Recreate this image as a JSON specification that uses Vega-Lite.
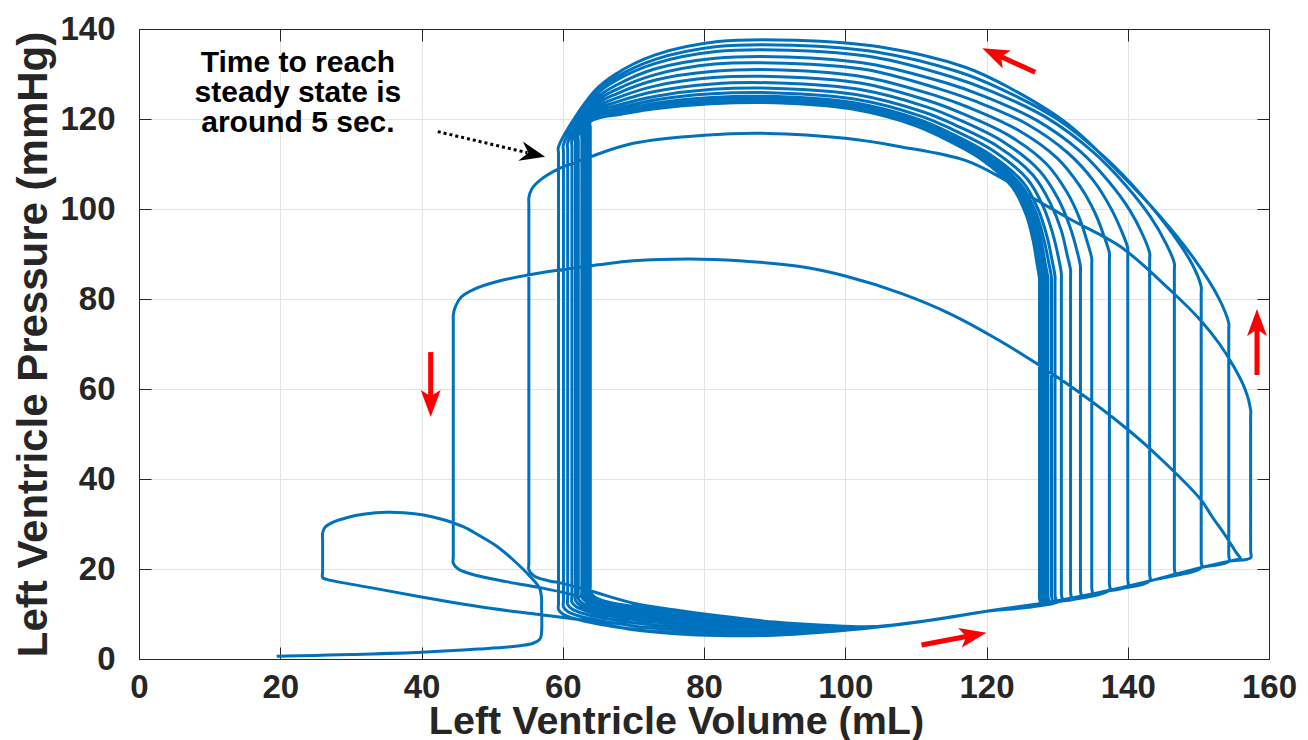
{
"$schema":"https://vega.github.io/schema/vega-lite/v6.json",
"width":1130,"height":630,
"autosize":{"type":"none"},
"padding":{"left":139,"top":29,"right":39,"bottom":81},
"background":"#ffffff",
"config":{"view":{"stroke":"#262626","strokeWidth":1},"font":"Liberation Sans"},
"datasets":{
"pv":[
{"vol":19.5,"pres":0.6},{"vol":25,"pres":0.8},{"vol":30,"pres":1.0},{"vol":40,"pres":1.5},{"vol":48,"pres":2.2},{"vol":53,"pres":2.8},{"vol":55.8,"pres":3.5},{"vol":56.8,"pres":4.5},{"vol":57,"pres":6},{"vol":57,"pres":12},{"vol":57,"pres":13.5},{"vol":56.7,"pres":15.8},{"vol":55.4,"pres":18.3},{"vol":53,"pres":22},{"vol":50.7,"pres":25},{"vol":48,"pres":27.6},{"vol":45.9,"pres":29.4},{"vol":43,"pres":31},{"vol":40.3,"pres":32},{"vol":37.5,"pres":32.5},{"vol":35.1,"pres":32.6},{"vol":32,"pres":32.2},{"vol":29.4,"pres":31.4},{"vol":27.5,"pres":30.4},{"vol":26.3,"pres":29.2},{"vol":26,"pres":28},{"vol":26,"pres":26.5},{"vol":26,"pres":19.5},{"vol":26,"pres":18.1},{"vol":26.6,"pres":17.7},{"vol":33,"pres":15.8},{"vol":40,"pres":13.8},{"vol":50,"pres":11.2},{"vol":56,"pres":10},{"vol":62.5,"pres":8.7},{"vol":70,"pres":6.5},{"vol":76,"pres":5.6},{"vol":82,"pres":5.2},{"vol":90,"pres":5.3},{"vol":97,"pres":6},{"vol":104,"pres":7},{"vol":112,"pres":8.6},{"vol":120,"pres":10.6},{"vol":128,"pres":12.4},{"vol":136,"pres":14.8},{"vol":144,"pres":17.7},{"vol":150,"pres":20.2},{"vol":154.3,"pres":21.7},{"vol":155.6,"pres":22.1},{"vol":156,"pres":22.2},
{"vol":155.3,"pres":23.8},{"vol":153.8,"pres":27.5},{"vol":152,"pres":31.5},{"vol":150.3,"pres":35.5},{"vol":145,"pres":44},{"vol":140,"pres":51},{"vol":131,"pres":61.6},{"vol":122,"pres":70.6},{"vol":115,"pres":76.6},{"vol":108,"pres":81.2},{"vol":100,"pres":85.1},{"vol":93.6,"pres":87.2},{"vol":85,"pres":88.5},{"vol":78,"pres":88.9},{"vol":70,"pres":88.5},{"vol":65,"pres":87.6},{"vol":58,"pres":86.1},{"vol":51,"pres":84},{"vol":47.5,"pres":82.2},{"vol":45.6,"pres":80.4},{"vol":44.8,"pres":78.3},{"vol":44.5,"pres":76.4},{"vol":44.5,"pres":75},{"vol":44.5,"pres":22.8},{"vol":44.5,"pres":21.3},{"vol":45.2,"pres":20},{"vol":47,"pres":18.9},{"vol":52,"pres":17.2},{"vol":57,"pres":15.8},{"vol":60,"pres":14.8},{"vol":66,"pres":12.6},{"vol":72,"pres":10.6},{"vol":80,"pres":8.6},{"vol":88,"pres":7.5},{"vol":96,"pres":7.1},{"vol":104,"pres":7.1},{"vol":112,"pres":8.6},{"vol":120,"pres":10.6},{"vol":128,"pres":12.4},{"vol":136,"pres":14.8},{"vol":144,"pres":17.7},{"vol":150,"pres":20.2},{"vol":154.3,"pres":21.7},{"vol":157.4,"pres":22.5},
{"vol":157.4,"pres":24},{"vol":157.4,"pres":53.8},{"vol":157.4,"pres":55.3},{"vol":156.6,"pres":60},{"vol":155,"pres":65},{"vol":153,"pres":70},{"vol":150.3,"pres":75.3},{"vol":146,"pres":82},{"vol":139,"pres":91.6},{"vol":132,"pres":97.6},{"vol":126,"pres":103},{"vol":122,"pres":107},{"vol":117,"pres":110.8},{"vol":108,"pres":113.8},{"vol":100,"pres":115.7},{"vol":89,"pres":116.8},{"vol":80,"pres":116.4},{"vol":70,"pres":114.6},{"vol":63.9,"pres":111.6},{"vol":59.4,"pres":108.9},{"vol":56.8,"pres":106.4},{"vol":55.6,"pres":104.4},{"vol":55.2,"pres":102.5},{"vol":55.2,"pres":101},{"vol":55.2,"pres":21.3},{"vol":55.2,"pres":19.8},{"vol":56,"pres":18.4},{"vol":58,"pres":17.4},{"vol":60,"pres":16.8},{"vol":64,"pres":15.1},{"vol":70,"pres":12.4},{"vol":76,"pres":10.9},{"vol":82,"pres":9.6},{"vol":90,"pres":8.2},{"vol":97,"pres":7.5},{"vol":104,"pres":7.2},{"vol":112,"pres":8.6},{"vol":120,"pres":10.6},{"vol":128,"pres":12.4},{"vol":136,"pres":14.8},{"vol":144,"pres":17.7},{"vol":150,"pres":20.2},{"vol":154.3,"pres":21.7},
{"vol":154.3,"pres":23.2},{"vol":154.3,"pres":73.1},{"vol":154.3,"pres":74.6},{"vol":152.85,"pres":80.3},{"vol":149.45,"pres":88.8},{"vol":144.5,"pres":98.5},{"vol":138.4,"pres":108.7},{"vol":131.4,"pres":119},{"vol":123.3,"pres":126.9},{"vol":117,"pres":131.5},{"vol":105,"pres":136},{"vol":93,"pres":137.5},{"vol":82,"pres":137.2},{"vol":73,"pres":134.2},{"vol":67.5,"pres":130},{"vol":64.5,"pres":126.2},{"vol":59.4,"pres":113.8},{"vol":59.4,"pres":112.3},{"vol":59.4,"pres":12.5},{"vol":59.4,"pres":11},{"vol":60,"pres":10},{"vol":61.6,"pres":9},{"vol":70,"pres":6.6},{"vol":76,"pres":5.8},{"vol":82,"pres":5.35},{"vol":90,"pres":5.4},{"vol":97,"pres":6.1},{"vol":104,"pres":7},{"vol":112,"pres":8.6},{"vol":120,"pres":10.6},{"vol":128,"pres":12.4},{"vol":136,"pres":14.8},{"vol":144,"pres":17.7},{"vol":150.4,"pres":20.3},
{"vol":150.4,"pres":21.8},{"vol":150.4,"pres":81.2},{"vol":150.4,"pres":82.7},{"vol":149.2,"pres":87.5},{"vol":146.3,"pres":94.6},{"vol":142.1,"pres":102.8},{"vol":136.8,"pres":111.4},{"vol":130,"pres":120},{"vol":122,"pres":126.7},{"vol":116,"pres":130.5},{"vol":104.4,"pres":134.9},{"vol":92.6,"pres":136.4},{"vol":81.9,"pres":136.1},{"vol":73,"pres":133.2},{"vol":67.6,"pres":129.3},{"vol":64.6,"pres":125.7},{"vol":60.1,"pres":114.3},{"vol":60.1,"pres":112.8},{"vol":60.1,"pres":13.05},{"vol":60.1,"pres":11.55},{"vol":60.7,"pres":10.55},{"vol":62.3,"pres":9.55},{"vol":70,"pres":7.35},{"vol":76,"pres":6.45},{"vol":82,"pres":5.9},{"vol":90,"pres":5.75},{"vol":97,"pres":6.3},{"vol":104,"pres":7},{"vol":112,"pres":8.6},{"vol":120,"pres":10.6},{"vol":128,"pres":12.4},{"vol":136,"pres":14.8},{"vol":144,"pres":17.7},{"vol":146.6,"pres":18.8},
{"vol":146.6,"pres":20.3},{"vol":146.6,"pres":86.4},{"vol":146.6,"pres":87.9},{"vol":145.5,"pres":92.1},{"vol":143.2,"pres":98.3},{"vol":139.7,"pres":105.3},{"vol":135,"pres":112.8},{"vol":128.5,"pres":120.3},{"vol":120.8,"pres":126.1},{"vol":115,"pres":129.4},{"vol":103.9,"pres":133.8},{"vol":92.1,"pres":135.3},{"vol":81.7,"pres":135},{"vol":73,"pres":132.3},{"vol":67.6,"pres":128.6},{"vol":64.7,"pres":125.3},{"vol":60.7,"pres":114.7},{"vol":60.7,"pres":113.2},{"vol":60.7,"pres":13.6},{"vol":60.7,"pres":12.1},{"vol":61.3,"pres":11.1},{"vol":62.9,"pres":10.1},{"vol":70,"pres":8.05},{"vol":76,"pres":7.1},{"vol":82,"pres":6.4},{"vol":90,"pres":6.1},{"vol":97,"pres":6.45},{"vol":104,"pres":7.05},{"vol":112,"pres":8.6},{"vol":120,"pres":10.6},{"vol":128,"pres":12.4},{"vol":136,"pres":14.8},{"vol":143.1,"pres":17.4},
{"vol":143.1,"pres":18.9},{"vol":143.1,"pres":88.7},{"vol":143.1,"pres":90.2},{"vol":142.2,"pres":94},{"vol":140.3,"pres":99.7},{"vol":137.3,"pres":106.1},{"vol":133.2,"pres":112.9},{"vol":127,"pres":119.8},{"vol":119.6,"pres":125.1},{"vol":114.1,"pres":128.1},{"vol":103.3,"pres":132.3},{"vol":91.7,"pres":133.8},{"vol":81.6,"pres":133.5},{"vol":73,"pres":131.1},{"vol":67.7,"pres":127.6},{"vol":64.8,"pres":124.6},{"vol":61.3,"pres":115.3},{"vol":61.3,"pres":113.8},{"vol":61.3,"pres":14.1},{"vol":61.3,"pres":12.6},{"vol":61.9,"pres":11.6},{"vol":63.5,"pres":10.6},{"vol":70,"pres":8.75},{"vol":76,"pres":7.7},{"vol":82,"pres":6.9},{"vol":90,"pres":6.45},{"vol":97,"pres":6.6},{"vol":104,"pres":7.05},{"vol":112,"pres":8.6},{"vol":120,"pres":10.6},{"vol":128,"pres":12.4},{"vol":136,"pres":14.8},{"vol":140,"pres":16.2},
{"vol":140,"pres":17.7},{"vol":140,"pres":89.8},{"vol":140,"pres":91.3},{"vol":139.2,"pres":94.8},{"vol":137.6,"pres":100.2},{"vol":135.2,"pres":106.2},{"vol":131.5,"pres":112.5},{"vol":125.7,"pres":118.9},{"vol":118.5,"pres":123.9},{"vol":113.3,"pres":126.7},{"vol":102.9,"pres":131},{"vol":91.4,"pres":132.4},{"vol":81.5,"pres":132.2},{"vol":73,"pres":129.8},{"vol":67.8,"pres":126.7},{"vol":64.9,"pres":124},{"vol":61.8,"pres":115.9},{"vol":61.8,"pres":114.4},{"vol":61.8,"pres":14.5},{"vol":61.8,"pres":13},{"vol":62.4,"pres":12},{"vol":64,"pres":11},{"vol":70,"pres":9.3},{"vol":76,"pres":8.2},{"vol":82,"pres":7.35},{"vol":90,"pres":6.75},{"vol":97,"pres":6.75},{"vol":104,"pres":7.1},{"vol":112,"pres":8.6},{"vol":120,"pres":10.6},{"vol":128,"pres":12.4},{"vol":137.4,"pres":15.3},
{"vol":137.4,"pres":16.8},{"vol":137.4,"pres":88.7},{"vol":137.4,"pres":90.2},{"vol":136.7,"pres":93.7},{"vol":135.4,"pres":99},{"vol":133.3,"pres":104.9},{"vol":130,"pres":111.3},{"vol":124.4,"pres":117.6},{"vol":117.6,"pres":122.5},{"vol":112.6,"pres":125.3},{"vol":102.5,"pres":129.4},{"vol":91.1,"pres":130.9},{"vol":81.4,"pres":130.6},{"vol":73,"pres":128.6},{"vol":67.8,"pres":125.7},{"vol":65,"pres":123.4},{"vol":62.2,"pres":116.5},{"vol":62.2,"pres":115},{"vol":62.2,"pres":14.9},{"vol":62.2,"pres":13.4},{"vol":62.8,"pres":12.4},{"vol":64.4,"pres":11.4},{"vol":70,"pres":9.8},{"vol":76,"pres":8.65},{"vol":82,"pres":7.7},{"vol":90,"pres":7},{"vol":97,"pres":6.9},{"vol":104,"pres":7.1},{"vol":112,"pres":8.6},{"vol":120,"pres":10.6},{"vol":128,"pres":12.4},{"vol":134.9,"pres":14.4},
{"vol":134.9,"pres":15.9},{"vol":134.9,"pres":87.5},{"vol":134.9,"pres":89},{"vol":134.3,"pres":92.5},{"vol":133.2,"pres":97.8},{"vol":131.4,"pres":103.7},{"vol":128.5,"pres":110},{"vol":123.2,"pres":116.3},{"vol":116.6,"pres":121.2},{"vol":111.9,"pres":124},{"vol":102.1,"pres":128},{"vol":90.8,"pres":129.4},{"vol":81.3,"pres":129.2},{"vol":73,"pres":127.3},{"vol":67.9,"pres":124.8},{"vol":65.1,"pres":122.8},{"vol":62.7,"pres":117.1},{"vol":62.7,"pres":115.6},{"vol":62.7,"pres":15.25},{"vol":62.7,"pres":13.75},{"vol":63.3,"pres":12.75},{"vol":64.9,"pres":11.75},{"vol":70,"pres":10.3},{"vol":76,"pres":9.05},{"vol":82,"pres":8.05},{"vol":90,"pres":7.2},{"vol":97,"pres":7},{"vol":104,"pres":7.1},{"vol":112,"pres":8.6},{"vol":120,"pres":10.6},{"vol":128,"pres":12.4},{"vol":133.3,"pres":13.9},
{"vol":133.3,"pres":15.4},{"vol":133.3,"pres":85.7},{"vol":133.3,"pres":87.2},{"vol":132.8,"pres":90.8},{"vol":131.8,"pres":96.1},{"vol":130.2,"pres":102.1},{"vol":127.5,"pres":108.5},{"vol":122.4,"pres":114.9},{"vol":116,"pres":119.9},{"vol":111.5,"pres":122.7},{"vol":101.9,"pres":126.6},{"vol":90.6,"pres":128},{"vol":81.2,"pres":127.8},{"vol":73,"pres":126.1},{"vol":67.9,"pres":123.9},{"vol":65.1,"pres":122.2},{"vol":62.9,"pres":117.6},{"vol":62.9,"pres":116.1},{"vol":62.9,"pres":15.5},{"vol":62.9,"pres":14},{"vol":63.5,"pres":13},{"vol":65.1,"pres":12},{"vol":70,"pres":10.6},{"vol":76,"pres":9.3},{"vol":82,"pres":8.3},{"vol":90,"pres":7.35},{"vol":97,"pres":7.1},{"vol":104,"pres":7.1},{"vol":112,"pres":8.6},{"vol":120,"pres":10.6},{"vol":128,"pres":12.4},{"vol":131.9,"pres":13.5},
{"vol":131.9,"pres":15},{"vol":131.9,"pres":84.9},{"vol":131.9,"pres":86.4},{"vol":131.4,"pres":89.9},{"vol":130.6,"pres":95.2},{"vol":129.1,"pres":101.1},{"vol":126.6,"pres":107.5},{"vol":121.7,"pres":113.8},{"vol":115.5,"pres":118.7},{"vol":111.2,"pres":121.5},{"vol":101.7,"pres":125.4},{"vol":90.5,"pres":126.8},{"vol":81.2,"pres":126.6},{"vol":73,"pres":125},{"vol":67.9,"pres":123.1},{"vol":65.1,"pres":121.7},{"vol":63.2,"pres":118.1},{"vol":63.2,"pres":116.6},{"vol":63.2,"pres":15.7},{"vol":63.2,"pres":14.2},{"vol":63.8,"pres":13.2},{"vol":65.4,"pres":12.2},{"vol":70,"pres":10.85},{"vol":76,"pres":9.55},{"vol":82,"pres":8.5},{"vol":90,"pres":7.5},{"vol":97,"pres":7.15},{"vol":104,"pres":7.1},{"vol":112,"pres":8.6},{"vol":120,"pres":10.6},{"vol":130.6,"pres":13.1},
{"vol":130.6,"pres":14.6},{"vol":130.6,"pres":84.1},{"vol":130.6,"pres":85.6},{"vol":130.2,"pres":89.1},{"vol":129.4,"pres":94.4},{"vol":128.1,"pres":100.3},{"vol":125.8,"pres":106.6},{"vol":121,"pres":112.9},{"vol":115,"pres":117.8},{"vol":110.8,"pres":120.6},{"vol":101.5,"pres":124.4},{"vol":90.3,"pres":125.8},{"vol":81.1,"pres":125.6},{"vol":73,"pres":124.2},{"vol":67.9,"pres":122.4},{"vol":65.2,"pres":121.2},{"vol":63.4,"pres":118.5},{"vol":63.4,"pres":117},{"vol":63.4,"pres":15.85},{"vol":63.4,"pres":14.35},{"vol":64,"pres":13.35},{"vol":65.6,"pres":12.35},{"vol":70,"pres":11.1},{"vol":76,"pres":9.8},{"vol":82,"pres":8.65},{"vol":90,"pres":7.6},{"vol":97,"pres":7.2},{"vol":104,"pres":7.15},{"vol":112,"pres":8.6},{"vol":120,"pres":10.6},{"vol":129.7,"pres":12.85},
{"vol":129.7,"pres":14.35},{"vol":129.7,"pres":83.5},{"vol":129.7,"pres":85},{"vol":129.3,"pres":88.5},{"vol":128.6,"pres":93.7},{"vol":127.4,"pres":99.6},{"vol":125.2,"pres":105.9},{"vol":120.5,"pres":112.1},{"vol":114.7,"pres":117},{"vol":110.6,"pres":119.8},{"vol":101.3,"pres":123.6},{"vol":90.3,"pres":125},{"vol":81.1,"pres":124.8},{"vol":73,"pres":123.5},{"vol":68,"pres":121.9},{"vol":65.2,"pres":120.9},{"vol":63.5,"pres":118.8},{"vol":63.5,"pres":117.3},{"vol":63.5,"pres":16},{"vol":63.5,"pres":14.5},{"vol":64.1,"pres":13.5},{"vol":65.7,"pres":12.5},{"vol":70,"pres":11.3},{"vol":76,"pres":9.95},{"vol":82,"pres":8.8},{"vol":90,"pres":7.7},{"vol":97,"pres":7.25},{"vol":104,"pres":7.15},{"vol":112,"pres":8.6},{"vol":120,"pres":10.6},{"vol":129.2,"pres":12.75},
{"vol":129.2,"pres":14.25},{"vol":129.2,"pres":83.2},{"vol":129.2,"pres":84.7},{"vol":128.8,"pres":88.2},{"vol":128.1,"pres":93.4},{"vol":127,"pres":99.2},{"vol":124.8,"pres":105.5},{"vol":120.2,"pres":111.7},{"vol":114.4,"pres":116.5},{"vol":110.4,"pres":119.3},{"vol":101.3,"pres":123.1},{"vol":90.2,"pres":124.5},{"vol":81.1,"pres":124.3},{"vol":73,"pres":123.1},{"vol":68,"pres":121.6},{"vol":65.2,"pres":120.7},{"vol":63.6,"pres":119},{"vol":63.6,"pres":117.5},{"vol":63.6,"pres":16.05},{"vol":63.6,"pres":14.55},{"vol":64.2,"pres":13.55},{"vol":65.8,"pres":12.55},{"vol":70,"pres":11.4},{"vol":76,"pres":10},{"vol":82,"pres":8.85},{"vol":90,"pres":7.75},{"vol":97,"pres":7.25},{"vol":104,"pres":7.15},{"vol":112,"pres":8.6},{"vol":120,"pres":10.6},{"vol":128.7,"pres":12.6},
{"vol":128.7,"pres":14.1},{"vol":128.7,"pres":83},{"vol":128.7,"pres":84.5},{"vol":128.3,"pres":88},{"vol":127.7,"pres":93.1},{"vol":126.6,"pres":99},{"vol":124.5,"pres":105.2},{"vol":119.9,"pres":111.4},{"vol":114.3,"pres":116.2},{"vol":110.3,"pres":119},{"vol":101.2,"pres":122.7},{"vol":90.1,"pres":124.1},{"vol":81,"pres":123.9},{"vol":73,"pres":122.7},{"vol":68,"pres":121.3},{"vol":65.3,"pres":120.5},{"vol":63.7,"pres":119.2},{"vol":63.7,"pres":117.7},{"vol":63.7,"pres":16.1},{"vol":63.7,"pres":14.6},{"vol":64.3,"pres":13.6},{"vol":65.9,"pres":12.6},{"vol":70,"pres":11.5},{"vol":76,"pres":10.1},{"vol":82,"pres":8.95},{"vol":90,"pres":7.8},{"vol":97,"pres":7.3},{"vol":104,"pres":7.15},{"vol":112,"pres":8.6},{"vol":120,"pres":10.6},{"vol":128.3,"pres":12.5},
{"vol":128.3,"pres":14},{"vol":128.3,"pres":83},{"vol":128.3,"pres":84.5},{"vol":127.9,"pres":87.9},{"vol":127.3,"pres":93.1},{"vol":126.2,"pres":98.9},{"vol":124.2,"pres":105.1},{"vol":119.7,"pres":111.3},{"vol":114.1,"pres":116.1},{"vol":110.2,"pres":118.8},{"vol":101.1,"pres":122.5},{"vol":90.1,"pres":123.9},{"vol":81,"pres":123.7},{"vol":73,"pres":122.5},{"vol":68,"pres":121.2},{"vol":65.3,"pres":120.4},{"vol":63.8,"pres":119.3},{"vol":63.8,"pres":117.8},{"vol":63.8,"pres":16.2},{"vol":63.8,"pres":14.7},{"vol":64.4,"pres":13.7},{"vol":66,"pres":12.7},{"vol":70,"pres":11.55},{"vol":76,"pres":10.2},{"vol":82,"pres":9},{"vol":90,"pres":7.85},{"vol":97,"pres":7.3},{"vol":104,"pres":7.15},{"vol":112,"pres":8.6},{"vol":120,"pres":10.6},{"vol":127.9,"pres":12.4},
{"vol":127.9,"pres":13.9},{"vol":127.9,"pres":83},{"vol":127.9,"pres":84.5},{"vol":127.5,"pres":87.9},{"vol":127,"pres":93},{"vol":125.9,"pres":98.8},{"vol":123.9,"pres":105},{"vol":119.5,"pres":111.1},{"vol":114,"pres":115.9},{"vol":110.1,"pres":118.6},{"vol":101.1,"pres":122.3},{"vol":90,"pres":123.7},{"vol":81,"pres":123.5},{"vol":73,"pres":122.4},{"vol":68,"pres":121.1},{"vol":65.3,"pres":120.3},{"vol":63.8,"pres":119.4},{"vol":63.8,"pres":117.9},{"vol":63.8,"pres":16.25},{"vol":63.8,"pres":14.75},{"vol":64.4,"pres":13.75},{"vol":66,"pres":12.75},{"vol":70,"pres":11.65},{"vol":76,"pres":10.25},{"vol":82,"pres":9.05},{"vol":90,"pres":7.85},{"vol":97,"pres":7.35},{"vol":104,"pres":7.15},{"vol":112,"pres":8.6},{"vol":120,"pres":10.6},{"vol":127.5,"pres":12.3},
{"vol":127.5,"pres":13.8},{"vol":127.5,"pres":83},{"vol":127.5,"pres":84.5},{"vol":127.15,"pres":87.9},{"vol":126.6,"pres":93},{"vol":125.6,"pres":98.8},{"vol":123.6,"pres":105},{"vol":119.3,"pres":111},{"vol":113.8,"pres":115.8},{"vol":110,"pres":118.5},{"vol":101,"pres":122.2},{"vol":90,"pres":123.6},{"vol":81,"pres":123.4},{"vol":73,"pres":122.3},{"vol":68,"pres":121},{"vol":65.3,"pres":120.3},{"vol":63.9,"pres":119.4},{"vol":63.9,"pres":117.9},{"vol":63.9,"pres":16.3},{"vol":63.9,"pres":14.8},{"vol":64.5,"pres":13.8},{"vol":66.1,"pres":12.8},{"vol":70,"pres":11.7},{"vol":76,"pres":10.3},{"vol":82,"pres":9.1},{"vol":90,"pres":7.9},{"vol":97,"pres":7.35},{"vol":104,"pres":7.15},{"vol":112,"pres":8.6},{"vol":120,"pres":10.6},{"vol":127.5,"pres":12.3}
],
"shafts":[
{"vol":126.9,"pres":130.4,"vol2":121.7,"pres2":134.1},
{"vol":158.3,"pres":63.1,"vol2":158.3,"pres2":73.8},
{"vol":110.8,"pres":3.1,"vol2":117.5,"pres2":5.1},
{"vol":41.3,"pres":68.2,"vol2":41.3,"pres2":57.8}
],
"note":[{"vol":22.5,"pres":130.4}]
},
"layer":[
{"data":{"name":"pv"},
 "mark":{"type":"line","interpolate":"catmull-rom","color":"#0072BD","strokeWidth":3,"clip":true},
 "encoding":{
  "x":{"field":"vol","type":"quantitative","scale":{"domain":[0,160],"nice":false,"zero":false},
   "axis":{"orient":"bottom","values":[0,20,40,60,80,100,120,140,160],"grid":true,"gridColor":"#e3e3e3","gridWidth":1,"domainColor":"#262626","domainWidth":1,"tickColor":"#262626","tickSize":-12,"tickWidth":1,"labelPadding":24,"labelFont":"Liberation Sans","labelFontSize":33,"labelFontWeight":"bold","labelColor":"#262626","labelFlush":false,"labelOverlap":false,"title":"Left Ventricle Volume (mL)","titleFont":"Liberation Sans","titleFontSize":39.5,"titleFontWeight":"bold","titleColor":"#262626","titlePadding":-2,"titleX":537}},
  "y":{"field":"pres","type":"quantitative","scale":{"domain":[0,140],"nice":false,"zero":false},
   "axis":{"orient":"left","values":[0,20,40,60,80,100,120,140],"grid":true,"gridColor":"#e3e3e3","gridWidth":1,"domainColor":"#262626","domainWidth":1,"tickColor":"#262626","tickSize":-12,"tickWidth":1,"labelPadding":36,"labelFont":"Liberation Sans","labelFontSize":33,"labelFontWeight":"bold","labelColor":"#262626","labelFlush":false,"labelOverlap":false,"title":"Left Ventricle Pressure (mmHg)","titleFont":"Liberation Sans","titleFontSize":42,"titleFontWeight":"bold","titleColor":"#262626","titlePadding":4}},
  "order":{"value":null}
 }},
{"data":{"name":"note"},
 "mark":{"type":"point","opacity":0},
 "encoding":{
  "x":{"field":"vol","type":"quantitative","scale":{"domain":[0,160],"nice":false,"zero":false},
   "axis":{"orient":"top","values":[0,20,40,60,80,100,120,140,160],"labels":false,"grid":false,"title":null,"tickSize":-12,"tickColor":"#262626","domainColor":"#262626"}},
  "y":{"field":"pres","type":"quantitative","scale":{"domain":[0,140],"nice":false,"zero":false},
   "axis":{"orient":"right","values":[0,20,40,60,80,100,120,140],"labels":false,"grid":false,"title":null,"tickSize":-12,"tickColor":"#262626","domainColor":"#262626"}}
 }},
{"data":{"name":"shafts"},
 "mark":{"type":"rule","color":"#ff0000","strokeWidth":5},
 "encoding":{"x":{"field":"vol","type":"quantitative","axis":null},"y":{"field":"pres","type":"quantitative","axis":null},"x2":{"field":"vol2"},"y2":{"field":"pres2"}}},
{"data":{"values":[{"vol":119.4,"pres":135.7}]},
 "mark":{"type":"point","shape":"M0,0L0.7,1.9L0,1.45L-0.7,1.9Z","filled":true,"opacity":1,"color":"#ff0000","size":807,"angle":294.4,"strokeWidth":0},
 "encoding":{"x":{"field":"vol","type":"quantitative","axis":null},"y":{"field":"pres","type":"quantitative","axis":null}}},
{"data":{"values":[{"vol":158.3,"pres":77.8}]},
 "mark":{"type":"point","shape":"M0,0L0.7,1.9L0,1.45L-0.7,1.9Z","filled":true,"opacity":1,"color":"#ff0000","size":807,"angle":0,"strokeWidth":0},
 "encoding":{"x":{"field":"vol","type":"quantitative","axis":null},"y":{"field":"pres","type":"quantitative","axis":null}}},
{"data":{"values":[{"vol":120.0,"pres":5.84}]},
 "mark":{"type":"point","shape":"M0,0L0.7,1.9L0,1.45L-0.7,1.9Z","filled":true,"opacity":1,"color":"#ff0000","size":807,"angle":79.3,"strokeWidth":0},
 "encoding":{"x":{"field":"vol","type":"quantitative","axis":null},"y":{"field":"pres","type":"quantitative","axis":null}}},
{"data":{"values":[{"vol":41.3,"pres":53.8}]},
 "mark":{"type":"point","shape":"M0,0L0.7,1.9L0,1.45L-0.7,1.9Z","filled":true,"opacity":1,"color":"#ff0000","size":807,"angle":180,"strokeWidth":0},
 "encoding":{"x":{"field":"vol","type":"quantitative","axis":null},"y":{"field":"pres","type":"quantitative","axis":null}}},
{"data":{"values":[{"vol":42.3,"pres":117.2,"vol2":55.0,"pres2":112.5}]},
 "mark":{"type":"rule","color":"#000000","strokeWidth":3,"strokeDash":[3,3]},
 "encoding":{"x":{"field":"vol","type":"quantitative","axis":null},"y":{"field":"pres","type":"quantitative","axis":null},"x2":{"field":"vol2"},"y2":{"field":"pres2"}}},
{"data":{"values":[{"vol":57.5,"pres":111.6}]},
 "mark":{"type":"point","shape":"M0,0L0.75,1.9L0,1.3L-0.75,1.9Z","filled":true,"opacity":1,"color":"#000000","size":700,"angle":103.2,"strokeWidth":0},
 "encoding":{"x":{"field":"vol","type":"quantitative","axis":null},"y":{"field":"pres","type":"quantitative","axis":null}}},
{"data":{"name":"note"},
 "mark":{"type":"text","text":["Time to reach","steady state is","around 5 sec."],"align":"center","baseline":"alphabetic","font":"Liberation Sans","fontSize":30,"fontWeight":"bold","lineHeight":30,"color":"#000000"},
 "encoding":{"x":{"field":"vol","type":"quantitative","axis":null},"y":{"field":"pres","type":"quantitative","axis":null}}}
],
"resolve":{"axis":{"x":"independent","y":"independent"}}
}
